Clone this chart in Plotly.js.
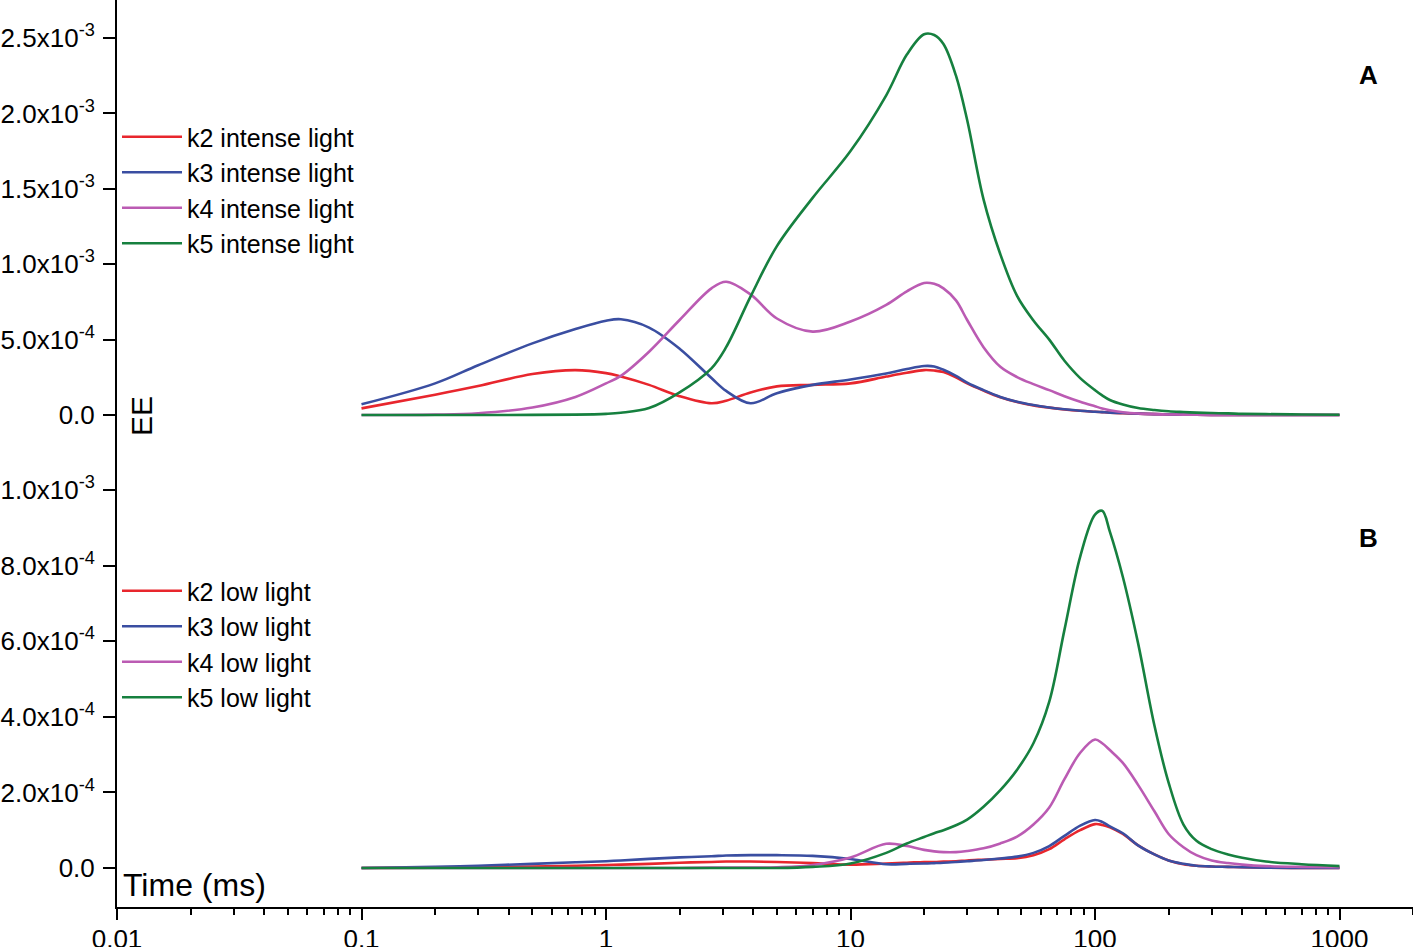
<!DOCTYPE html>
<html>
<head>
<meta charset="utf-8">
<script src="https://cdn.plot.ly/plotly-3.0.1.min.js"></script>
<style>
  html, body { margin: 0; padding: 0; background: #fff; }
  #chart { width: 1413px; height: 947px; }
</style>
</head>
<body>
<div id="chart"></div>
<script>
// time axis (ms), shared by every curve
var time = [0.1, 0.2, 0.3, 0.5, 0.75, 1, 1.15, 1.5, 2, 2.7, 3.1, 3.9, 5, 7, 10,
            14, 17, 20, 22, 24, 27, 30, 35, 41, 48, 56, 65, 75, 87, 100, 107, 115, 130, 150, 175,
            200, 230, 260, 300, 350, 400, 500, 700, 1000];

// EE values, in units of 1e-3
// panel A - intense light
var k2Intense = [0.044, 0.135, 0.192, 0.272, 0.298, 0.278, 0.255, 0.2, 0.125, 0.078, 0.095, 0.15, 0.19, 0.2, 0.21,
                 0.255, 0.28, 0.298, 0.295, 0.285, 0.25, 0.21, 0.162, 0.118, 0.086, 0.064, 0.049, 0.037, 0.028, 0.022, 0.019, 0.016, 0.012, 0.009, 0.006,
                 0.004, 0.003, 0.002, 0.001, 0.001, 0.001, 0, 0, 0];
var k3Intense = [0.071, 0.21, 0.33, 0.475, 0.57, 0.625, 0.635, 0.58, 0.44, 0.245, 0.16, 0.078, 0.145, 0.2, 0.235,
                 0.275, 0.305, 0.325, 0.322, 0.3, 0.26, 0.215, 0.165, 0.12, 0.088, 0.066, 0.05, 0.038, 0.028, 0.022, 0.019, 0.016, 0.013, 0.009, 0.006,
                 0.004, 0.003, 0.002, 0.001, 0.001, 0.001, 0, 0, 0];
var k4Intense = [0, 0.003, 0.012, 0.05, 0.12, 0.21, 0.26, 0.42, 0.63, 0.84, 0.884, 0.8, 0.64, 0.553, 0.62,
                 0.73, 0.82, 0.876, 0.87, 0.84, 0.76, 0.63, 0.45, 0.32, 0.252, 0.205, 0.165, 0.125, 0.088, 0.058, 0.044, 0.032, 0.019, 0.01, 0.006,
                 0.004, 0.003, 0.002, 0.001, 0.001, 0.001, 0, 0, 0];
var k5Intense = [0, 0, 0, 0.001, 0.003, 0.008, 0.015, 0.046, 0.15, 0.31, 0.45, 0.785, 1.12, 1.44, 1.75,
                 2.12, 2.39, 2.525, 2.52, 2.46, 2.25, 1.956, 1.43, 1.066, 0.79, 0.627, 0.5, 0.36, 0.245, 0.165, 0.13, 0.1, 0.07, 0.046, 0.033,
                 0.025, 0.02, 0.016, 0.013, 0.011, 0.008, 0.006, 0.004, 0.002];

// panel B - low light
var k2Low = [0, 0.001, 0.002, 0.004, 0.006, 0.008, 0.009, 0.011, 0.014, 0.016, 0.017, 0.017, 0.016, 0.013, 0.009,
             0.012, 0.014, 0.016, 0.016, 0.017, 0.018, 0.02, 0.022, 0.024, 0.026, 0.034, 0.05, 0.076, 0.1, 0.116, 0.114, 0.108, 0.09, 0.06, 0.036,
             0.02, 0.01, 0.006, 0.004, 0.003, 0.002, 0.001, 0, 0];
var k3Low = [0, 0.003, 0.006, 0.011, 0.015, 0.018, 0.02, 0.024, 0.028, 0.031, 0.033, 0.034, 0.034, 0.032, 0.024,
             0.01, 0.011, 0.012, 0.013, 0.014, 0.016, 0.018, 0.021, 0.025, 0.03, 0.04, 0.058, 0.085, 0.112, 0.127, 0.122, 0.11, 0.092, 0.06, 0.036,
             0.02, 0.011, 0.006, 0.004, 0.003, 0.002, 0.001, 0, 0];
var k4Low = [0, 0, 0, 0, 0, 0, 0, 0, 0, 0.001, 0.001, 0.001, 0.002, 0.008, 0.028,
             0.064, 0.058, 0.048, 0.044, 0.042, 0.042, 0.045, 0.052, 0.065, 0.083, 0.115, 0.16, 0.235, 0.305, 0.34, 0.33, 0.312, 0.278, 0.22, 0.15,
             0.09, 0.055, 0.034, 0.02, 0.013, 0.009, 0.005, 0.003, 0.002];
var k5Low = [0, 0, 0, 0, 0, 0, 0, 0, 0, 0, 0, 0, 0, 0.003, 0.012,
             0.04, 0.065, 0.082, 0.092, 0.1, 0.113, 0.128, 0.162, 0.206, 0.26, 0.33, 0.44, 0.63, 0.824, 0.935, 0.945, 0.89, 0.77, 0.595, 0.377,
             0.226, 0.115, 0.072, 0.05, 0.036, 0.027, 0.017, 0.01, 0.005];

var namesA = ['k2 intense light', 'k3 intense light', 'k4 intense light', 'k5 intense light'];
var namesB = ['k2 low light', 'k3 low light', 'k4 low light', 'k5 low light'];
var colors = ['#e8262d', '#3a4ea1', '#bb5bb3', '#16803f'];

// y tick labels
var ticksA = [0, 0.5, 1.0, 1.5, 2.0, 2.5];
var tickTextA = ['0.0', '5.0x10<sup>-4</sup>', '1.0x10<sup>-3</sup>', '1.5x10<sup>-3</sup>', '2.0x10<sup>-3</sup>', '2.5x10<sup>-3</sup>'];
var ticksB = [0, 0.2, 0.4, 0.6, 0.8, 1.0];
var tickTextB = ['0.0', '2.0x10<sup>-4</sup>', '4.0x10<sup>-4</sup>', '6.0x10<sup>-4</sup>', '8.0x10<sup>-4</sup>', '1.0x10<sup>-3</sup>'];

var FONT = 'Liberation Sans, Arial, sans-serif';

function line(y, name, color, yaxis, legend) {
    return {
        x: time, y: y, name: name, type: 'scatter', mode: 'lines',
        xaxis: 'x', yaxis: yaxis, legend: legend,
        line: { color: color, width: 2.6, shape: 'spline', smoothing: 1 }
    };
}

var seriesA = [k2Intense, k3Intense, k4Intense, k5Intense];
var seriesB = [k2Low, k3Low, k4Low, k5Low];
var traces = [];
for (var i = 0; i < 4; i++) traces.push(line(seriesA[i], namesA[i], colors[i], 'y2', 'legend'));
for (var j = 0; j < 4; j++) traces.push(line(seriesB[j], namesB[j], colors[j], 'y', 'legend2'));

var split = 0.4983;
var yAxisBase = {
    showline: true, linecolor: '#000', linewidth: 2,
    ticks: 'outside', ticklen: 12, tickwidth: 2, tickcolor: '#000',
    ticklabelstandoff: 3,
    showgrid: false, zeroline: false, tickmode: 'array',
    tickfont: { family: FONT, size: 26, color: '#000' }
};

var legendBase = {
    xanchor: 'left', yanchor: 'middle',
    bgcolor: 'rgba(0,0,0,0)', borderwidth: 0, tracegroupgap: 0,
    itemwidth: 60,
    font: { family: FONT, size: 25, color: '#000' }
};

var layout = {
    width: 1413, height: 947,
    margin: { l: 117, r: 0, t: 0, b: 40 },
    paper_bgcolor: '#fff', plot_bgcolor: '#fff',
    font: { family: FONT, color: '#000' },
    showlegend: true,
    xaxis: {
        type: 'log', range: [-2, 3.3006], anchor: 'y',
        showline: true, linecolor: '#000', linewidth: 2,
        ticks: 'outside', ticklen: 11, tickwidth: 2, tickcolor: '#000',
        ticklabelstandoff: -3,
        showgrid: false, zeroline: false,
        tickvals: [0.01, 0.1, 1, 10, 100, 1000],
        ticktext: ['0.01', '0.1', '1', '10', '100', '1000'],
        tickfont: { family: FONT, size: 26, color: '#000' },
        minor: { ticks: 'outside', ticklen: 6, tickwidth: 2, tickcolor: '#000', dtick: 'D1', showgrid: false }
    },
    yaxis: Object.assign({}, yAxisBase, {
        domain: [0, split], range: [-0.1032, 1.0926], anchor: 'x',
        tickvals: ticksB, ticktext: tickTextB
    }),
    yaxis2: Object.assign({}, yAxisBase, {
        domain: [split, 1], range: [-0.2653, 2.752], anchor: 'x',
        tickvals: ticksA, ticktext: tickTextA
    }),
    legend: Object.assign({}, legendBase, { x: 0.0, y: 1 - 190 / 907 }),
    legend2: Object.assign({}, legendBase, { x: 0.0, y: 1 - 644 / 907 }),
    annotations: [
        { text: 'EE', xref: 'paper', yref: 'paper', x: (141 - 117) / 1296, y: 1 - 416 / 907,
          xanchor: 'center', yanchor: 'middle', showarrow: false, textangle: -90,
          font: { family: FONT, size: 30, color: '#000' } },
        { text: 'Time (ms)', xref: 'paper', yref: 'paper', x: (121 - 117) / 1296, y: 1 - 885 / 907,
          xanchor: 'left', yanchor: 'middle', showarrow: false,
          font: { family: FONT, size: 32, color: '#000' } },
        { text: '<b>A</b>', xref: 'paper', yref: 'paper', x: (1368 - 117) / 1296, y: 1 - 75 / 907,
          xanchor: 'center', yanchor: 'middle', showarrow: false,
          font: { family: FONT, size: 26, color: '#000' } },
        { text: '<b>B</b>', xref: 'paper', yref: 'paper', x: (1368 - 117) / 1296, y: 1 - 538 / 907,
          xanchor: 'center', yanchor: 'middle', showarrow: false,
          font: { family: FONT, size: 26, color: '#000' } }
    ]
};

Plotly.newPlot('chart', traces, layout, { displayModeBar: false, staticPlot: true });
</script>
</body>
</html>
